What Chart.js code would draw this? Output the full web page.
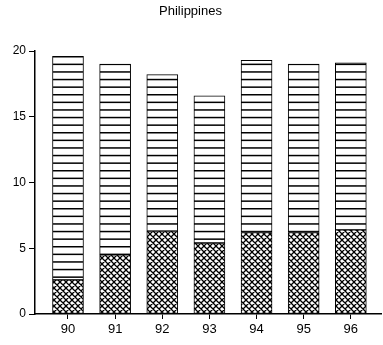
<!DOCTYPE html>
<html>
<head>
<meta charset="utf-8">
<script src="https://cdn.jsdelivr.net/npm/chart.js@4/dist/chart.umd.min.js"></script>
<style>
  html, body { margin: 0; padding: 0; background: #fff; }
  #wrap { width: 383px; height: 345px; }
</style>
</head>
<body>
<div id="wrap"><canvas id="c" width="383" height="345"></canvas></div>
<script>
// Years (two-digit) along the bottom axis
const years = [90, 91, 92, 93, 94, 95, 96];
// Lower (cross-hatched) portion of each bar
const lowerPart = [2.6, 4.5, 6.3, 5.4, 6.2, 6.2, 6.4];
// Upper (striped) portion stacked on top
const upperPart = [17.0, 14.5, 11.9, 11.2, 13.1, 12.8, 12.7];
// Value axis tick marks
const yTicks = [0, 5, 10, 15, 20];

const FONT = '"Liberation Sans", Arial, Helvetica, sans-serif';

// Cross-hatch fill: two families of diagonals forming small diamonds
function crossHatch() {
  const s = 6;
  const c = document.createElement('canvas');
  c.width = s; c.height = s;
  const g = c.getContext('2d');
  g.fillStyle = '#fff';
  g.fillRect(0, 0, s, s);
  g.strokeStyle = '#000';
  g.lineWidth = 1.3;
  g.beginPath();
  for (const k of [-s, 0, s]) {
    g.moveTo(-2 + k, -2); g.lineTo(s + 2 + k, s + 2);
  }
  for (const k of [0, s, 2 * s]) {
    g.moveTo(k + 2, -2); g.lineTo(k - s - 2, s + 2);
  }
  g.stroke();
  return g.createPattern(c, 'repeat');
}

// Horizontal stripe fill
function stripes() {
  const w = 8, h = 38, step = 7.6;
  const c = document.createElement('canvas');
  c.width = w; c.height = h;
  const g = c.getContext('2d');
  g.fillStyle = '#fff';
  g.fillRect(0, 0, w, h);
  g.fillStyle = '#000';
  for (let i = 0; i < 5; i++) {
    g.fillRect(0, 2.8 + i * step, w, 1.5);
  }
  return g.createPattern(c, 'repeat');
}

const tickFont = (size) => ({ family: FONT, size: size });

new Chart(document.getElementById('c'), {
  type: 'bar',
  data: {
    datasets: [
      {
        label: 'lower',
        data: years.map((x, i) => ({ x: x, y: lowerPart[i] })),
        backgroundColor: crossHatch(),
        borderColor: '#000',
        borderWidth: 1,
        borderSkipped: false,
        barThickness: 31
      },
      {
        label: 'upper',
        data: years.map((x, i) => ({ x: x, y: upperPart[i] })),
        backgroundColor: stripes(),
        borderColor: '#000',
        borderWidth: 1,
        borderSkipped: false,
        barThickness: 31
      }
    ]
  },
  options: {
    responsive: false,
    animation: false,
    devicePixelRatio: 1,
    layout: { padding: { left: 0, right: 2, top: 0, bottom: 0 } },
    plugins: {
      legend: { display: false },
      tooltip: { enabled: false },
      title: {
        display: true,
        text: 'Philippines',
        color: '#000',
        font: { family: FONT, size: 13, weight: 'normal' },
        padding: { top: 4, bottom: 31.4 }
      }
    },
    scales: {
      x: {
        type: 'linear',
        stacked: true,
        offset: false,
        min: 89.3,
        max: 96.64,
        afterBuildTicks: (s) => { s.ticks = years.map(v => ({ value: v })); },
        afterFit: (s) => { s.height = 31; },
        grid: { offset: false, drawOnChartArea: false, drawTicks: true, tickLength: 5, color: '#000', lineWidth: 1 },
        border: { display: true, color: '#000', width: 1.5 },
        ticks: {
          color: '#000',
          font: tickFont(13),
          padding: 3,
          autoSkip: false,
          maxRotation: 0,
          callback: (v) => String(v)
        }
      },
      y: {
        stacked: true,
        min: 0,
        max: 20,
        afterBuildTicks: (s) => { s.ticks = yTicks.map(v => ({ value: v })); },
        afterFit: (s) => { s.width = 35; },
        grid: { offset: false, drawOnChartArea: false, drawTicks: true, tickLength: 6, color: '#000', lineWidth: 1 },
        border: { display: true, color: '#000', width: 1.5 },
        ticks: {
          color: '#000',
          font: tickFont(12),
          padding: 3,
          callback: (v) => String(v)
        }
      }
    }
  }
});
</script>
</body>
</html>
